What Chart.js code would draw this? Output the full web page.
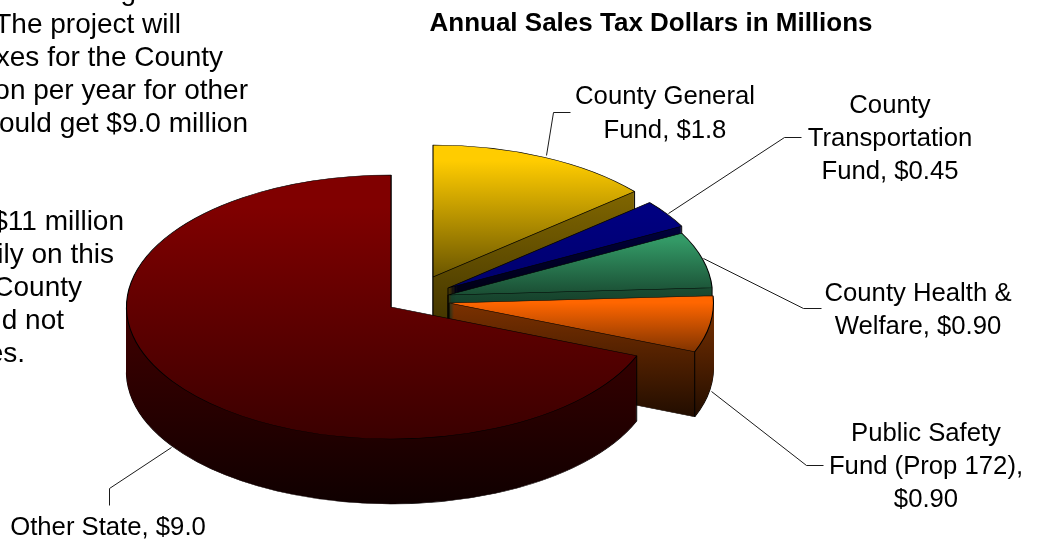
<!DOCTYPE html>
<html>
<head>
<meta charset="utf-8">
<style>
  html, body { margin: 0; padding: 0; background: #fff; overflow: hidden; }
  canvas { display: block; }
</style>
<script src="https://cdn.jsdelivr.net/npm/chart.js@4/dist/chart.umd.min.js"></script>
</head>
<body>
<canvas id="salesTaxPie" width="1038" height="542"></canvas>
<script>
// Annual sales tax split, in millions of dollars
const categories = ['County General Fund', 'County Transportation Fund', 'County Health & Welfare', 'Public Safety Fund (Prop 172)', 'Other State'];
const salesTaxMillions = [1.8, 0.45, 0.90, 0.90, 9.0];

// Base colour of each wedge
const wedgeColors = ['#FFCC00', '#000080', '#339966', '#FF6600', '#800000'];
// Brightness at the lower end of each wedge's top face
const topFade = [0.42, 0.85, 0.5, 0.5, 0.45];
// Vertical extent of the shading on each wedge's side wall
const wallShadeRange = [[192, 400], [220, 300], [288, 360], [297, 420], [310, 505]];
const wallFade = [0.5, 0.12];

// Projection of the pie: centre, radii, thickness, and how far each wedge is pulled out
const pieCentre = { x: 391, y: 307 };
const pieRadii = { x: 264.5, y: 132 };
const pieDepth = 65;
const wedgeShift = [[42, -30], [57, -19], [57, -12], [58, -4], [0, 0]];

const titleText = 'Annual Sales Tax Dollars in Millions';
const labelFont = '25.7px "Liberation Sans", Arial, sans-serif';
const noteFont = '28px "Liberation Sans", Arial, sans-serif';
const titleFont = 'bold 26px "Liberation Sans", Arial, sans-serif';

// Callouts: text lines with centre x and baseline y
const calloutText = [
  { x: 665, lines: [['County General', 104], ['Fund, $1.8', 138]] },
  { x: 890, lines: [['County', 113], ['Transportation', 146], ['Fund, $0.45', 179]] },
  { x: 918, lines: [['County Health &', 301], ['Welfare, $0.90', 334]] },
  { x: 926, lines: [['Public Safety', 441], ['Fund (Prop 172),', 474], ['$0.90', 507]] },
  { x: 108, lines: [['Other State, $9.0', 535]] }
];
const leaderLines = [
  [[546, 155], [553, 112], [570, 112]],
  [[668, 213], [784, 137], [801, 137]],
  [[703, 258], [803, 308], [821, 308]],
  [[711, 391], [806, 465], [823, 465]],
  [[171, 447], [109, 488], [109, 505]]
];

// Neighbouring slide text, right-aligned and running off the left and top edges
const sideNotes = [
  ['e Crossings', 150, 0], ['The project will', 181, 33], ['xes for the County', 223, 66],
  ['on per year for other', 248, 99], ['ould get $9.0 million', 248, 132],
  ['$11 million', 124, 230], ['ily on this', 114, 263], ['County', 82, 296],
  ['d not', 64, 329], ['es.', 25, 362]
];

function shade(hex, f) {
  const n = parseInt(hex.slice(1), 16);
  const c = [n >> 16 & 255, n >> 8 & 255, n & 255].map(v => Math.round(v * f));
  return `rgb(${c[0]},${c[1]},${c[2]})`;
}

// Returns a copy of an arc that draws with other options and leaves the original intact
function arcWith(arc, overrides) {
  const copy = Object.create(arc);
  copy.options = Object.assign({}, arc.options, overrides);
  return copy;
}

const pie3d = {
  id: 'pie3d',
  beforeDatasetsDraw(chart) {
    const ctx = chart.ctx;
    const arcs = chart.getDatasetMeta(0).data;
    arcs.forEach((arc, i) => {
      const R = arc.outerRadius;
      const sx = pieRadii.x / R, sy = pieRadii.y / R;
      const tx = pieCentre.x + wedgeShift[i][0];
      const ty = pieCentre.y + wedgeShift[i][1];
      const base = wedgeColors[i];

      // Screen y to the arc's own coordinate system, for gradients applied under the projection
      const project = (dy) => {
        ctx.setTransform(sx, 0, 0, sy, tx - arc.x * sx, ty + dy - arc.y * sy);
      };
      const vGrad = (y0, y1, dy, c0, c1, hold) => {
        const toLocal = y => (y - ty - dy) / sy + arc.y;
        const g = ctx.createLinearGradient(0, toLocal(y0), 0, toLocal(y1));
        g.addColorStop(0, c0);
        g.addColorStop(hold, c0);
        g.addColorStop(1, c1);
        return g;
      };

      ctx.save();
      // Side wall: stacked copies of the wedge from the bottom face upward
      const [w0, w1] = wallShadeRange[i];
      const c0 = shade(base, wallFade[0]), c1 = shade(base, wallFade[1]);
      project(pieDepth);
      arcWith(arc, { backgroundColor: 'transparent', borderColor: '#000', borderWidth: 1.1 }).draw(ctx);
      for (let d = pieDepth; d > 0; d--) {
        project(d);
        arcWith(arc, { backgroundColor: vGrad(w0, w1, d, c0, c1, 0), borderWidth: 0 }).draw(ctx);
      }

      // Vertical edges at the apex, the closing corner, and an opening corner on the near side
      ctx.setTransform(1, 0, 0, 1, 0, 0);
      const rimPoint = a => [tx + pieRadii.x * Math.cos(a), ty + pieRadii.y * Math.sin(a)];
      const corners = [[tx, ty], rimPoint(arc.endAngle)];
      if (Math.sin(arc.startAngle) > 0) corners.push(rimPoint(arc.startAngle));
      ctx.strokeStyle = '#000';
      ctx.lineWidth = 1;
      corners.forEach(([x, y]) => {
        ctx.beginPath();
        ctx.moveTo(x, y);
        ctx.lineTo(x, y + pieDepth);
        ctx.stroke();
      });

      // Top face, shaded over the wedge's vertical extent
      const ys = [ty, ty + pieRadii.y * Math.sin(arc.startAngle), ty + pieRadii.y * Math.sin(arc.endAngle)];
      const spans = (a) => {
        const t = Math.PI * 2;
        const norm = v => ((v % t) + t) % t;
        return norm(a - arc.startAngle) <= arc.endAngle - arc.startAngle;
      };
      if (spans(-Math.PI / 2)) ys.push(ty - pieRadii.y);
      if (spans(Math.PI / 2)) ys.push(ty + pieRadii.y);
      const top = Math.min(...ys), bottom = Math.max(...ys);
      project(0);
      arcWith(arc, {
        backgroundColor: vGrad(top, bottom, 0, base, shade(base, topFade[i]), 0.12),
        borderColor: '#000',
        borderWidth: 1.1
      }).draw(ctx);
      ctx.restore();
    });
    return false;
  },
  afterDraw(chart) {
    const ctx = chart.ctx;
    ctx.save();
    ctx.strokeStyle = '#1a1a1a';
    ctx.lineWidth = 1;
    leaderLines.forEach(pts => {
      ctx.beginPath();
      pts.forEach(([x, y], k) => (k ? ctx.lineTo(x + 0.5, y + 0.5) : ctx.moveTo(x + 0.5, y + 0.5)));
      ctx.stroke();
    });

    ctx.fillStyle = '#000';
    ctx.textBaseline = 'alphabetic';
    ctx.font = labelFont;
    ctx.textAlign = 'center';
    calloutText.forEach(c => c.lines.forEach(([t, y]) => ctx.fillText(t, c.x, y)));

    ctx.font = noteFont;
    ctx.textAlign = 'right';
    sideNotes.forEach(([t, x, y]) => ctx.fillText(t, x, y));

    ctx.font = titleFont;
    ctx.textAlign = 'center';
    ctx.fillText(titleText, 651, 31);
    ctx.restore();
  }
};

new Chart(document.getElementById('salesTaxPie'), {
  type: 'pie',
  data: {
    labels: categories,
    datasets: [{ data: salesTaxMillions, backgroundColor: wedgeColors, borderColor: '#000', borderWidth: 1 }]
  },
  options: {
    responsive: false,
    animation: false,
    plugins: { legend: { display: false }, tooltip: { enabled: false }, title: { display: false } }
  },
  plugins: [pie3d]
});
</script>
</body>
</html>
